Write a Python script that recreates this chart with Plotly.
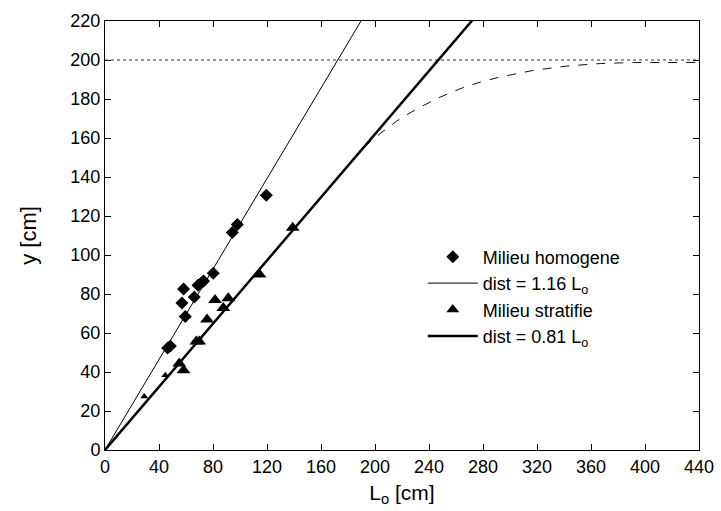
import plotly.graph_objects as go

# ---- data ----
homog_x = [46.4, 48.4, 57.0, 58.2, 59.5, 66.1, 68.9, 71.3, 73.0, 80.2, 94.3, 98.0, 119.5]
homog_y = [52.3, 53.3, 75.4, 82.6, 68.4, 78.5, 84.5, 85.6, 86.7, 90.6, 111.5, 115.6, 130.6]

strat_x = [29.1, 44.7, 55.0, 58.2, 67.6, 69.8, 75.6, 81.5, 87.6, 91.3, 114.5, 139.0]
strat_y = [27.5, 38.3, 44.3, 40.9, 55.6, 55.6, 66.9, 76.9, 72.8, 77.8, 90.0, 114.0]
strat_size = [7, 7, 12, 12, 12, 12, 12, 12, 12, 12, 12, 12]

slope_homog = 1.16
slope_strat = 0.81
fit_x = [0, 440]

curve_x = [174.5, 189.1, 203.9, 218.7, 233.6, 248.4, 263.2, 278.0, 292.8, 307.6, 317.5, 342.2, 367.0, 391.6, 440.0]
curve_y = [141.4, 153.7, 162.3, 170.0, 175.9, 181.0, 185.3, 188.7, 191.3, 193.3, 194.7, 196.9, 198.2, 198.7, 198.7]

limit_x = [0, 440]
limit_y = [200, 200]

x_ticks = list(range(0, 441, 40))
y_ticks = list(range(0, 221, 20))

FONT = "Liberation Sans, Arial, Helvetica, sans-serif"

fig = go.Figure()

fig.add_trace(go.Scatter(x=limit_x, y=limit_y, mode="lines",
                         line=dict(color="#333333", width=1, dash="dot"),
                         showlegend=False, hoverinfo="skip"))
fig.add_trace(go.Scatter(x=curve_x, y=curve_y, mode="lines",
                         line=dict(color="#111111", width=1, dash="dash"),
                         showlegend=False, hoverinfo="skip"))

fig.add_trace(go.Scatter(x=homog_x, y=homog_y, mode="markers", name="Milieu homogene",
                         marker=dict(symbol="diamond", size=10, color="black",
                                     opacity=1, line=dict(width=0))))
fig.add_trace(go.Scatter(x=fit_x, y=[slope_homog * v for v in fit_x], mode="lines",
                         name="dist = 1.16 L<sub>o</sub>",
                         line=dict(color="black", width=1)))
fig.add_trace(go.Scatter(x=strat_x, y=strat_y, mode="markers", name="Milieu stratifie",
                         marker=dict(symbol="triangle-up", size=strat_size, color="black",
                                     opacity=1, line=dict(width=0))))
fig.add_trace(go.Scatter(x=fit_x, y=[slope_strat * v for v in fit_x], mode="lines",
                         name="dist = 0.81 L<sub>o</sub>",
                         line=dict(color="black", width=2.5)))

axis_common = dict(showline=True, linecolor="black", linewidth=1, mirror="ticks",
                   ticks="inside", ticklen=6, tickcolor="black", showgrid=False,
                   zeroline=False, automargin=False,
                   tickfont=dict(size=18, color="black", family=FONT))

fig.update_xaxes(range=[0, 440], tickvals=x_ticks, ticktext=[str(v) for v in x_ticks],
                 title=dict(text="L<sub>o</sub> [cm]", font=dict(size=21, color="black", family=FONT),
                            standoff=9),
                 **axis_common)
fig.update_yaxes(range=[0, 220], tickvals=y_ticks, ticktext=[str(v) for v in y_ticks],
                 title=dict(text="y [cm]", font=dict(size=22, color="black", family=FONT),
                            standoff=27),
                 **axis_common)

fig.update_layout(
    width=721, height=511,
    margin=dict(l=105, r=22, t=21, b=61),
    paper_bgcolor="white", plot_bgcolor="white",
    font=dict(family=FONT, color="black"),
    legend=dict(x=0.535, y=0.493, xanchor="left", yanchor="top",
                font=dict(size=18, family=FONT, color="black"),
                bgcolor="rgba(0,0,0,0)", tracegroupgap=0, itemwidth=50),
)

fig.write_html("out.html", config={"displayModeBar": False},
               post_script="document.body.style.margin='0';document.body.style.overflow='hidden';")
